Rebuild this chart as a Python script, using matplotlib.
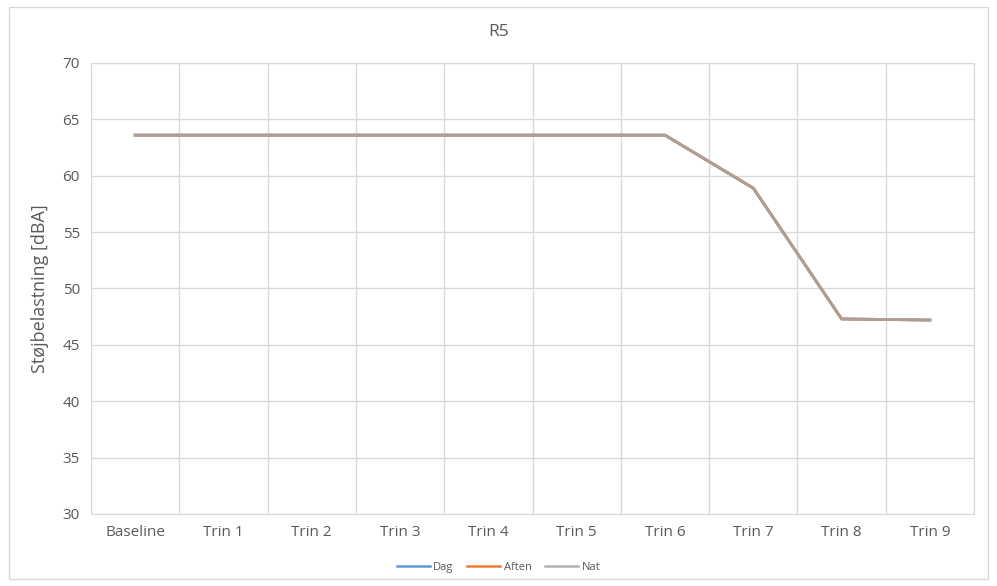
import matplotlib
matplotlib.use('Agg')
import matplotlib.pyplot as plt
from matplotlib.patches import Rectangle

plt.rcParams['font.family'] = ['Open Sans', 'DejaVu Sans']

categories = ['Baseline', 'Trin 1', 'Trin 2', 'Trin 3', 'Trin 4',
              'Trin 5', 'Trin 6', 'Trin 7', 'Trin 8', 'Trin 9']
dag = [63.6, 63.6, 63.6, 63.6, 63.6, 63.6, 63.6, 58.9, 47.3, 47.2]
aften = [63.6, 63.6, 63.6, 63.6, 63.6, 63.6, 63.6, 58.9, 47.3, 47.2]
nat = [63.6, 63.6, 63.6, 63.6, 63.6, 63.6, 63.6, 58.9, 47.3, 47.2]

text_col = '#595959'
grid_col = '#d9d9d9'

fig = plt.figure(figsize=(9.97, 5.86), dpi=100)
# outer chart border
fig.patches.append(Rectangle((0.009, 0.012), 0.982, 0.976, transform=fig.transFigure,
                             fill=False, edgecolor=grid_col, linewidth=1))

ax = fig.add_axes([0.0913, 0.1229, 0.8857, 0.7696])
x = list(range(len(categories)))
ax.plot(x, dag, color='#5B9BD5', linewidth=2.0, label='Dag')
ax.plot(x, aften, color='#ED7D31', linewidth=2.0, label='Aften')
ax.plot(x, nat, color='#A5A5A5', linewidth=2.0, alpha=0.85, label='Nat')

ax.set_xlim(-0.5, len(categories) - 0.5)
ax.set_ylim(30, 70)
ax.set_yticks(range(30, 71, 5))
ax.set_xticks(x)
ax.set_xticklabels(categories)
ax.set_xticks([i + 0.5 for i in range(-1, len(categories))], minor=True)
ax.grid(True, which='major', axis='y', color=grid_col, linewidth=1)
ax.grid(True, which='minor', axis='x', color=grid_col, linewidth=1)
ax.set_axisbelow(True)
ax.tick_params(which='both', length=0, colors=text_col, labelsize=11, pad=8)
for s in ax.spines.values():
    s.set_color(grid_col)

fig.text(0.5, 0.945, 'R5', color=text_col, fontsize=12.5, ha='center', va='center')
ax.set_ylabel('Støjbelastning [dBA]', color=text_col, fontsize=13, labelpad=10)

leg = fig.legend(loc='center', bbox_to_anchor=(0.5, 0.031), ncol=3, frameon=False,
                 fontsize=8, handlelength=3, handletextpad=0.3, columnspacing=1.2)
for line in leg.get_lines():
    line.set_linewidth(1.8)
for t in leg.get_texts():
    t.set_color(text_col)

fig.savefig('out.png', dpi=100)
